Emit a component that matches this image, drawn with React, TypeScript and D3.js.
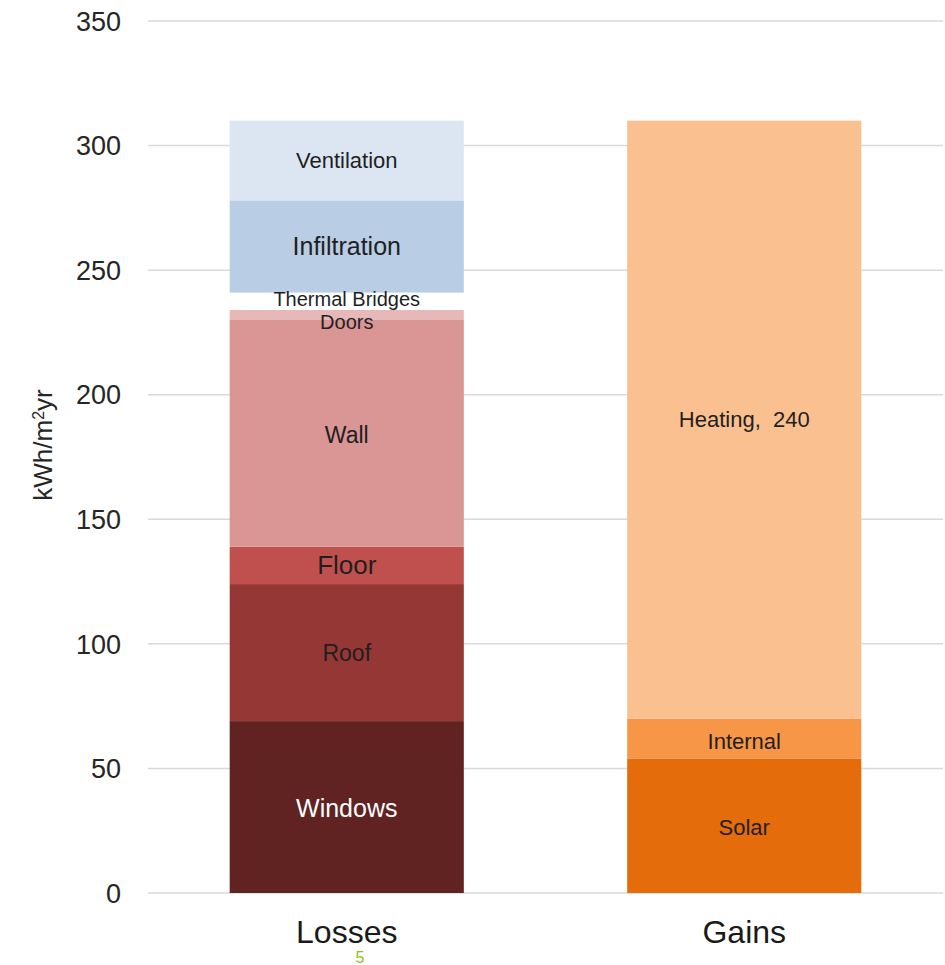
import React from "react";
import * as d3 from "d3";

const categories = ["Losses", "Gains"];
const lossNames = ["Windows", "Roof", "Floor", "Wall", "Doors", "Thermal Bridges", "Infiltration", "Ventilation"];
const lossValues = [69, 55, 15, 91, 4, 7, 37, 32];
const lossColors = ["#612222", "#953735", "#C0504D", "#D99694", "#E6B9B8", "#FFFFFF", "#B9CDE5", "#DCE6F2"];
const lossLabelColors = ["#FFFFFF", "#1f1f1f", "#1f1f1f", "#1f1f1f", "#1f1f1f", "#1f1f1f", "#1f1f1f", "#1f1f1f"];
const lossLabelSizes = [25, 23, 26, 23, 20, 20, 25, 22];
const lossLabelDy = [1, 0, 0, 2, 7, -2, 0, 0];
const gainNames = ["Solar", "Internal", "Heating,  240"];
const gainValues = [54, 16, 240];
const gainColors = ["#E46C0A", "#F79646", "#FAC090"];
const gainLabelSizes = [22, 22, 22];
const gainLabelDy = [2, 3, 0];
const yTicks = [0, 50, 100, 150, 200, 250, 300, 350];

export default function App() {
  const W = 945, H = 965;
  const y = d3.scaleLinear().domain([0, 350]).range([893, 21]);
  const x = d3.scaleBand().domain(categories).range([148, 943]).paddingInner(0.411).paddingOuter(0.2055);
  const bw = x.bandwidth();

  const stackSegs = (names: string[], vals: number[]) => {
    let acc = 0;
    return names.map((n, i) => {
      const y0 = acc;
      acc += vals[i];
      return { name: n, y0, y1: acc, i };
    });
  };
  const losses = stackSegs(lossNames, lossValues);
  const gains = stackSegs(gainNames, gainValues);
  const font = "Liberation Sans, Arial, sans-serif";

  return (
    <svg width={W} height={H} style={{ position: "absolute", left: 0, top: 0 }} fontFamily={font}>
      <rect width={W} height={H} fill="#fff" />
      {yTicks.map((t) => (
        <g key={t}>
          <line x1={148} x2={943} y1={y(t)} y2={y(t)} stroke="#d9d9d9" strokeWidth={1.5} />
          <text x={121} y={y(t)} dy="0.36em" textAnchor="end" fontSize={27} fill="#262626">{t}</text>
        </g>
      ))}
      {losses.map((s) => (
        <rect key={s.name} x={x("Losses")} y={y(s.y1)} width={bw} height={y(s.y0) - y(s.y1)} fill={lossColors[s.i]} />
      ))}
      {gains.map((s) => (
        <rect key={s.name} x={x("Gains")} y={y(s.y1)} width={bw} height={y(s.y0) - y(s.y1)} fill={gainColors[s.i]} />
      ))}
      {losses.map((s) => (
        <text key={s.name + "t"} x={(x("Losses") as number) + bw / 2} y={(y(s.y0) + y(s.y1)) / 2 + lossLabelDy[s.i]} dy="0.35em"
          textAnchor="middle" fontSize={lossLabelSizes[s.i]} fill={lossLabelColors[s.i]}>{s.name}</text>
      ))}
      {gains.map((s) => (
        <text key={s.name + "t"} x={(x("Gains") as number) + bw / 2} y={(y(s.y0) + y(s.y1)) / 2 + gainLabelDy[s.i]} dy="0.35em"
          textAnchor="middle" fontSize={gainLabelSizes[s.i]} fill="#1f1f1f" style={{ whiteSpace: "pre" }}>{s.name}</text>
      ))}
      {categories.map((c) => (
        <text key={c} x={(x(c) as number) + bw / 2} y={943} textAnchor="middle" fontSize={32} fill="#1a1a1a">{c}</text>
      ))}
      <text transform="translate(52,445) rotate(-90)" textAnchor="middle" fontSize={26} fill="#262626">
        kWh/m<tspan baselineShift="super" fontSize={16}>2</tspan>yr
      </text>
      <text x={360} y={963} textAnchor="middle" fontSize={16} fill="#8DC21F">5</text>
    </svg>
  );
}
